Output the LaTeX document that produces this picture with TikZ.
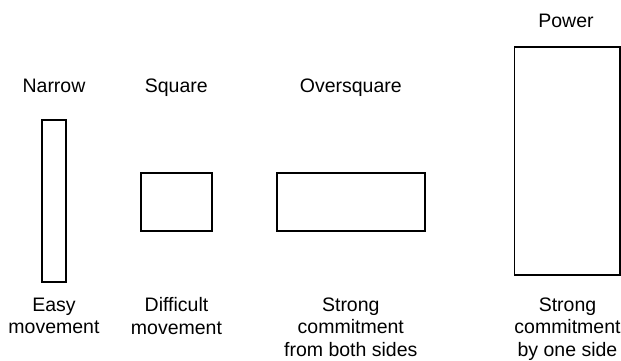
\documentclass[tikz,border=0pt]{standalone}
\usepackage{fontspec}
\setmainfont{Liberation Sans}
\usetikzlibrary{positioning}
\tikzset{
  shapebox/.style={draw=black, line width=1.8pt, fill=white, inner sep=0pt},
  lbl/.style={font=\fontsize{19.5}{22.5}\selectfont, align=center, inner sep=0pt}
}

\begin{document}
\begin{tikzpicture}[x=1pt, y=-1pt]
  \useasboundingbox (0,0) rectangle (621,360);
  % the four proportions
  \node[shapebox, minimum width=24.6pt, minimum height=162pt] (narrow) at (54,201) {};
  \node[shapebox, minimum width=71.3pt, minimum height=58pt] (square) at (176.3,202.3) {};
  \node[shapebox, minimum width=147.7pt, minimum height=58pt] (oversquare) at (350.8,202.3) {};
  \node[shapebox, minimum width=105.5pt, minimum height=228.3pt] (power) at (567.3,160.8) {};
  % names above
  \node[lbl, anchor=base] (narrowname) at (54,92) {Narrow};
  \node[lbl, anchor=base] (squarename) at (176.3,92) {Square};
  \node[lbl, anchor=base] (oversquarename) at (350.8,92) {Oversquare};
  \node[lbl, anchor=base] (powername) at (566,27) {Power};
  % effects below
  \node[lbl, anchor=north] (narrowtext) at (54,297.5) {Easy\\movement};
  \node[lbl, anchor=north] (squaretext) at (176.5,297.5) {Difficult\\movement};
  \node[lbl, anchor=north] (oversquaretext) at (350.8,297.5) {Strong\\commitment\\from both sides};
  \node[lbl, anchor=north] (powertext) at (567.5,297.5) {Strong\\commitment\\by one side};
\end{tikzpicture}
\end{document}
